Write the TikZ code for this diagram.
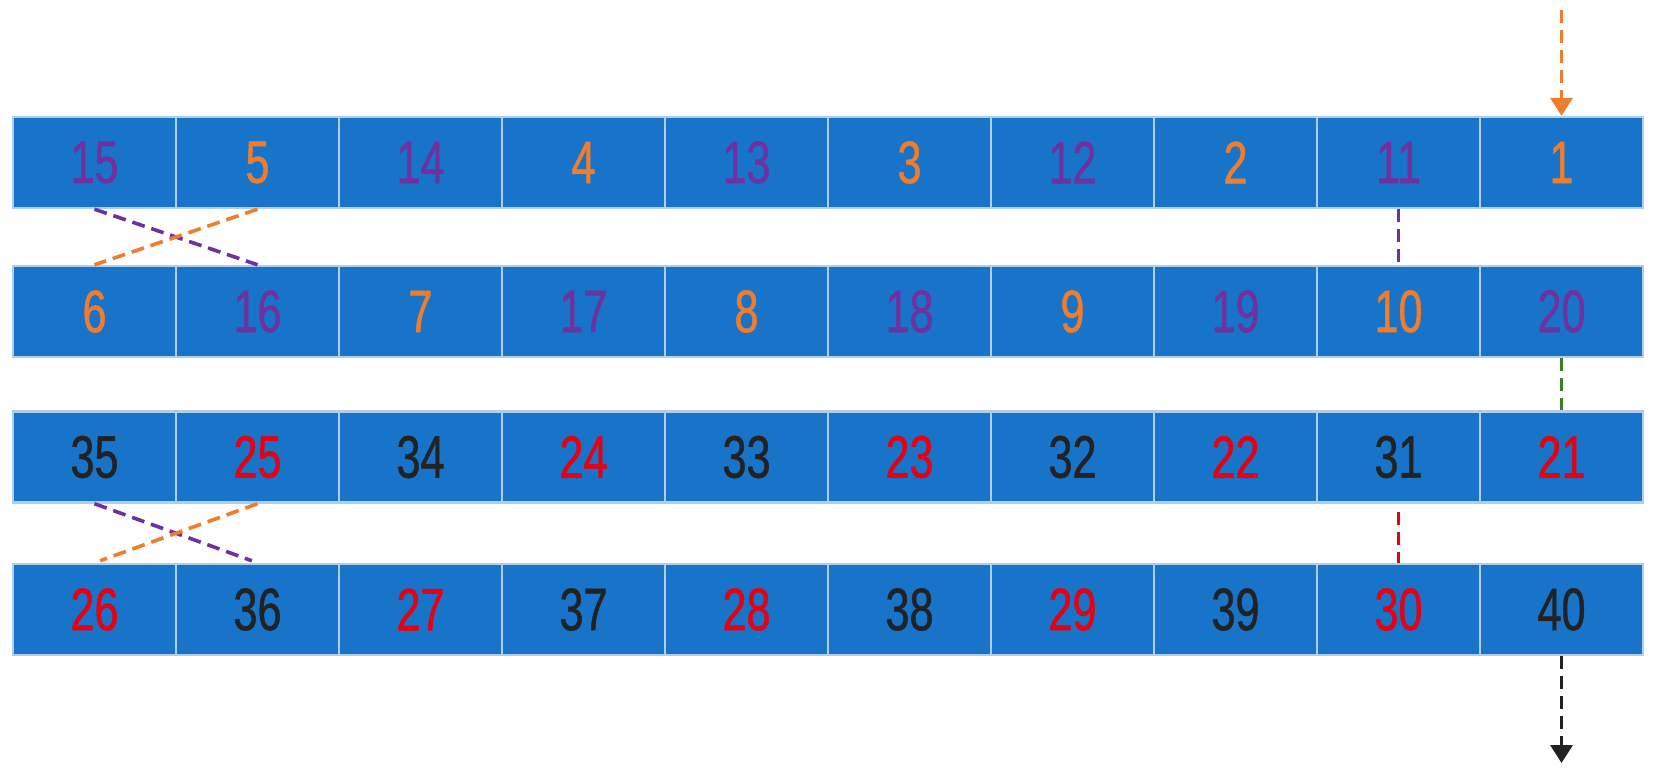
\documentclass[tikz,border=0pt]{standalone}
\usepackage{fontspec}
\setmainfont[FakeStretch=0.72,FakeBold=0.8]{Liberation Sans}
\usetikzlibrary{arrows.meta}
\definecolor{boxblue}{RGB}{24,116,200}
\definecolor{edgec}{RGB}{175,205,236}
\definecolor{purp}{RGB}{112,48,160}
\definecolor{orng}{RGB}{240,125,45}
\definecolor{redc}{RGB}{230,0,18}
\definecolor{blk}{RGB}{34,34,34}
\definecolor{grn}{RGB}{58,125,34}
\begin{document}
\begin{tikzpicture}[x=0.5pt,y=-0.5pt,
 cell/.style={draw=edgec,line width=1.2pt,fill=boxblue,minimum width=81.5pt,minimum height=45.5pt,inner sep=0pt,font=\fontsize{30}{30}\selectfont},
 link/.style={line width=1.8pt,dash pattern=on 6.5pt off 3.5pt},
 tip/.style={-{Triangle[width=11pt,length=9pt]}}]
\useasboundingbox (0,0) rectangle (1657,776);
\foreach \t/\c [count=\i] in {15/purp,5/orng,14/purp,4/orng,13/purp,3/orng,12/purp,2/orng,11/purp,1/orng}
  \node[cell,text=\c] (a\i) at ({94.5+163*(\i-1)},162.5) {\t};
\foreach \t/\c [count=\i] in {6/orng,16/purp,7/orng,17/purp,8/orng,18/purp,9/orng,19/purp,10/orng,20/purp}
  \node[cell,text=\c] (b\i) at ({94.5+163*(\i-1)},311.5) {\t};
\foreach \t/\c [count=\i] in {35/blk,25/redc,34/blk,24/redc,33/blk,23/redc,32/blk,22/redc,31/blk,21/redc}
  \node[cell,text=\c] (c\i) at ({94.5+163*(\i-1)},457) {\t};
\foreach \t/\c [count=\i] in {26/redc,36/blk,27/redc,37/blk,28/redc,38/blk,29/redc,39/blk,30/redc,40/blk}
  \node[cell,text=\c] (d\i) at ({94.5+163*(\i-1)},609.5) {\t};
\draw[link,purp] (a1.south) -- (b2.north);
\draw[link,orng] (a2.south) -- (b1.north);
\draw[link,purp] (a9.south) -- (b9.north);
\draw[link,grn] (b10.south) -- (c10.north);
\draw[link,purp,shorten >=3pt] (c1.south) -- (d2.north);
\draw[link,orng,shorten >=3pt] (c2.south) -- (d1.north);
\draw[link,redc,shorten <=4pt] (c9.south) -- (d9.north);
\coordinate (in) at (1561.5,10);
\draw[link,orng,tip] (in) -- (a10.north);
\coordinate (out) at (1561.5,763);
\draw[link,blk,tip] (d10.south) -- (out);
\end{tikzpicture}
\end{document}
